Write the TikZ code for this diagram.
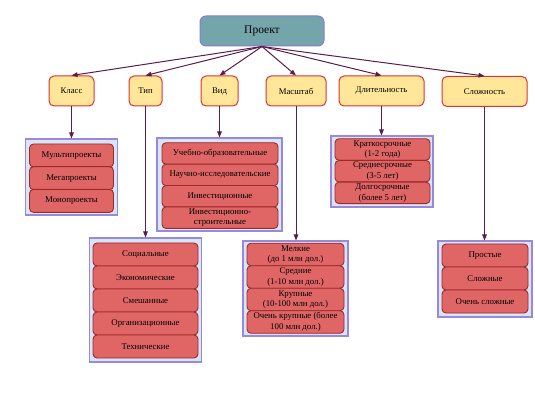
\documentclass[tikz,border=0pt]{standalone}
\usepackage{fontspec}
\setmainfont{Liberation Serif}
\usetikzlibrary{arrows.meta}
\definecolor{topfill}{RGB}{116,165,171}
\definecolor{topline}{RGB}{140,120,220}
\definecolor{catfill}{RGB}{255,230,153}
\definecolor{catline}{RGB}{224,48,48}
\definecolor{grpfill}{RGB}{214,230,248}
\definecolor{grpline}{RGB}{154,136,216}
\definecolor{itemfill}{RGB}{224,102,102}
\definecolor{itemline}{RGB}{160,40,40}
\definecolor{arrcol}{RGB}{90,30,70}
\begin{document}
\begin{tikzpicture}
		[x=1pt,y=-1pt,
		top/.style={rectangle,rounded corners=6pt,draw=topline,fill=topfill,line width=1pt,minimum width=124pt,minimum height=30pt,font=\fontsize{11.5}{13}\selectfont},
		cat/.style={rectangle,rounded corners=5pt,draw=catline,fill=catfill,line width=1pt,minimum height=30pt,inner sep=0pt,font=\fontsize{8.7}{10}\selectfont},
		grp/.style={rectangle,draw=grpline,fill=grpfill,line width=1.1pt,inner sep=0pt},
		item/.style={rectangle,rounded corners=4pt,draw=itemline,fill=itemfill,line width=0.9pt,inner sep=0pt,align=center,font=\fontsize{8.8}{10.6}\selectfont},
		arr/.style={draw=arrcol,line width=1pt,-{Triangle[length=6pt,width=4.6pt]}}]
		\useasboundingbox (0,0) rectangle (535,403);
		\node[top] (p) at (262,31) {Проект};
		\node[cat,minimum width=45pt] (c1) at (71.5,91) {Класс};
		\node[cat,minimum width=33pt] (c2) at (145.5,91) {Тип};
		\node[cat,minimum width=37pt] (c3) at (219.5,91) {Вид};
		\node[cat,minimum width=60pt] (c4) at (296,91) {Масштаб};
		\node[cat,minimum width=85pt] (c5) at (381.5,91) {Длительность};
		\node[cat,minimum width=85pt] (c6) at (484.5,91.5) {Сложность};
		% groups
		\node[grp,minimum width=92pt,minimum height=76pt] (g1) at (71.5,177) {};
		\node[grp,minimum width=112pt,minimum height=124pt] (g2) at (145.5,300) {};
		\node[grp,minimum width=125pt,minimum height=93pt] (g3) at (219.5,184.5) {};
		\node[grp,minimum width=105pt,minimum height=95pt] (g4) at (295.5,288.5) {};
		\node[grp,minimum width=102pt,minimum height=71pt] (g5) at (382,171.5) {};
		\node[grp,minimum width=94pt,minimum height=76pt] (g6) at (485,279) {};
		\foreach \t [count=\i] in {Мультипроекты,Мегапроекты,Монопроекты}
		{
			\node[item,minimum width=84pt,minimum height=23pt] (g1\i) at (71.5,{155.5+(\i-1)*22.7}) {\t};
		}
		\foreach \t [count=\i] in {Социальные,Экономические,Смешанные,Организационные,Технические}
		{
			\node[item,minimum width=105pt,minimum height=23pt] (g2\i) at (145.5,{254.5+(\i-1)*23}) {\t};
		}
		\foreach \t [count=\i] in {Учебно-образовательные,Научно-исследовательские,Инвестиционные,{Инвестиционно-\\строительные}}
		{
			\node[item,minimum width=116pt,minimum height=21.5pt] (g3\i) at (220,{153.5+(\i-1)*21.4}) {\t};
		}
		\foreach \t [count=\i] in {{Мелкие\\(до 1 млн дол.)},{Средние\\(1-10 млн дол.)},{Крупные\\(10-100 млн дол.)},{Очень крупные (более\\100 млн дол.)}}
		{
			\node[item,minimum width=97pt,minimum height=22.5pt] (g4\i) at (295.5,{254.5+(\i-1)*22.5}) {\t};
		}
		\foreach \t [count=\i] in {{Краткосрочные\\(1-2 года)},{Среднесрочные\\(3-5 лет)},{Долгосрочные\\(более 5 лет)}}
		{
			\node[item,minimum width=95pt,minimum height=21.5pt] (g5\i) at (382.5,{149.5+(\i-1)*21.7}) {\t};
		}
		\foreach \t [count=\i] in {Простые,Сложные,Очень сложные}
		{
			\node[item,minimum width=86pt,minimum height=23pt] (g6\i) at (485,{255.5+(\i-1)*23}) {\t};
		}
		% connectors
		\foreach \i in {1,...,6}
		{
			\draw[arr] (p.south) -- (c\i.north);
			\draw[arr] (c\i.south) -- (c\i.south |- g\i.north);
		}
	\end{tikzpicture}
\end{document}
